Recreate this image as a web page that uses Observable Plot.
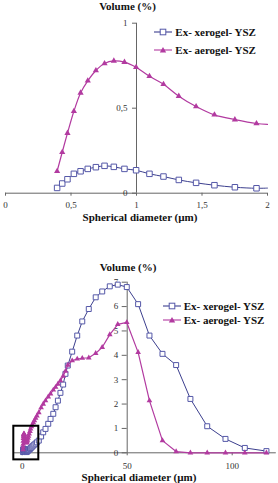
<!DOCTYPE html>
<html><head><meta charset="utf-8">
<script src="https://cdn.jsdelivr.net/npm/d3@7"></script>
<script src="https://cdn.jsdelivr.net/npm/@observablehq/plot@0.6"></script>
<style>
body{margin:0;background:#fff;}
#wrap{position:relative;width:278px;height:483px;overflow:hidden;font-family:"Liberation Serif","DejaVu Serif","Noto Serif",serif;background:#fff;}
.plot{position:absolute;left:0;}
.t{position:absolute;font-weight:bold;font-size:11px;white-space:nowrap;transform:translate(-50%,-50%);color:#111;}
.leg{position:absolute;font-weight:bold;font-size:11px;white-space:nowrap;display:flex;align-items:center;height:14px;line-height:14px;color:#111;}
.leg svg{margin-right:3px;}
</style></head>
<body><div id="wrap">
<div class="t" style="left:127.5px;top:6px">Volume (%)</div>
<div class="t" style="left:140px;top:216.5px">Spherical diameter (µm)</div>
<div class="t" style="left:128px;top:266.5px">Volume (%)</div>
<div class="t" style="left:139px;top:476.5px">Spherical diameter (µm)</div>
</div>
<script>
// ---- data ----
const seriesNames = ["Ex- xerogel- YSZ", "Ex- aerogel- YSZ"];
// panel 1 (0–2 µm)
const binsSmall = [0.394, 0.433, 0.473, 0.522, 0.573, 0.628, 0.690, 0.756, 0.827, 0.908, 0.997, 1.099, 1.206, 1.323, 1.455, 1.595, 1.751, 1.916];
const xeroSmall = [0.031, 0.057, 0.082, 0.114, 0.129, 0.143, 0.153, 0.161, 0.155, 0.143, 0.135, 0.114, 0.098, 0.078, 0.061, 0.047, 0.035, 0.029];
const aeroSmall = [0.129, 0.241, 0.353, 0.482, 0.590, 0.661, 0.722, 0.763, 0.778, 0.771, 0.741, 0.688, 0.641, 0.571, 0.510, 0.461, 0.433, 0.410];
const tailX = [2.0];
const xeroTail = [0.030];
const aeroTail = [0.405];
// panel 2 (remaining bins)
const binsLarge = [2.1, 2.3, 2.5, 2.8, 3.0, 3.3, 3.7, 4.0, 4.4, 4.8, 5.3, 5.8, 6.4, 7.0, 7.9, 9.0, 10.0, 11.1, 12.4, 13.5, 14.8, 15.9, 17.0, 18.2, 19.5, 20.6, 21.7, 23.8, 26.2, 28.6, 31.7, 35.0, 38.1, 41.7, 45.5, 49.8, 55.2, 60.6, 66.8, 73.3, 80.1, 88.1, 96.8, 106.0, 116.3];
const xeroLarge = [0.04, 0.05, 0.07, 0.09, 0.11, 0.13, 0.16, 0.19, 0.22, 0.26, 0.30, 0.34, 0.38, 0.43, 0.50, 0.67, 0.84, 0.98, 1.19, 1.39, 1.60, 1.87, 2.14, 2.46, 2.80, 3.24, 3.58, 4.15, 4.81, 5.39, 5.90, 6.38, 6.62, 6.83, 6.90, 6.80, 6.10, 4.81, 4.06, 3.60, 2.21, 1.09, 0.57, 0.20, 0.07];
const aeroLarge = [0.42, 0.46, 0.52, 0.60, 0.68, 0.78, 0.88, 0.98, 1.07, 1.15, 1.24, 1.32, 1.42, 1.52, 1.65, 1.85, 2.00, 2.14, 2.30, 2.42, 2.58, 2.69, 2.82, 2.96, 3.15, 3.35, 3.60, 3.78, 3.85, 3.88, 3.90, 4.08, 4.33, 4.85, 5.27, 5.35, 4.12, 2.14, 0.50, 0.05, 0, 0, 0, 0, 0];
// axes
const topXTicks = [0, 0.5, 1, 1.5, 2];
const topYTicks = [0, 0.5, 1];
const botXTicks = [0, 50, 100];
const botYTicks = [0, 1, 2, 3, 4, 5, 6, 7];
const zoomBox = [{x1: -4, x2: 7.9, y1: -0.29, y2: 1.09}];

// ---- build ----
const C_XERO = "#3c3f8e", C_XERO_MK = "#5558a8", C_AERO = "#b23aa0", C_AXIS = "#666";
const fmtComma = d => String(d).replace(".", ",");
const fmtInt = d => String(d);
const font = {fontFamily: "'Liberation Serif', 'DejaVu Serif', serif", fontSize: "9px", color: "#333", background: "transparent", overflow: "visible"};

const topPts = binsSmall.map((x, i) => ({x, xero: xeroSmall[i], aero: aeroSmall[i]}));
const topLine = topPts.concat(tailX.map((x, i) => ({x, xero: xeroTail[i], aero: aeroTail[i]})));
const allBins = binsSmall.concat(binsLarge);
const allXero = xeroSmall.concat(xeroLarge);
const allAero = aeroSmall.concat(aeroLarge);
const botPts = allBins.map((x, i) => ({x, xero: allXero[i], aero: allAero[i]}));

const topPlot = Plot.plot({
  width: 278, height: 230,
  marginLeft: 136, marginRight: 11, marginTop: 22.7, marginBottom: 37.3,
  x: {domain: [0, 2], range: [5, 267]},
  y: {domain: [0, 1]},
  style: font,
  marks: [
    Plot.ruleY([0], {x1: topXTicks[0], x2: topXTicks[topXTicks.length - 1], stroke: C_AXIS}),
    Plot.ruleX([1], {stroke: C_AXIS}),
    Plot.axisY({ticks: topYTicks, tickFormat: fmtComma, tickSize: 4, tickPadding: 5, label: null, stroke: C_AXIS}),
    Plot.axisX({ticks: topXTicks, tickFormat: fmtComma, tickSize: 3, tickPadding: 5, label: null, stroke: C_AXIS}),
    Plot.line(topLine, {x: "x", y: "xero", stroke: C_XERO, strokeWidth: 1, curve: "catmull-rom"}),
    Plot.line(topLine, {x: "x", y: "aero", stroke: C_AERO, strokeWidth: 1.2, curve: "catmull-rom"}),
    Plot.dot(topPts, {x: "x", y: "xero", symbol: "square", r: 3.1, fill: "white", stroke: C_XERO_MK, strokeWidth: 1}),
    Plot.dot(topPts, {x: "x", y: "aero", symbol: "triangle", r: 2.3, fill: C_AERO, stroke: "none"})
  ]
});
topPlot.classList.add("plot");
topPlot.style.top = "0px";

const botPlot = Plot.plot({
  width: 278, height: 253,
  marginLeft: 126.7, marginRight: 2, marginTop: 51.7, marginBottom: 30.7,
  x: {domain: [-4, 121], range: [13.3, 275.8]},
  y: {domain: [0, 7]},
  style: font,
  marks: [
    Plot.ruleY([0], {x1: -4, x2: 121, stroke: C_AXIS}),
    Plot.ruleX([50], {stroke: C_AXIS}),
    Plot.axisY({ticks: botYTicks, tickFormat: fmtInt, tickSize: 5, tickPadding: 4, label: null, stroke: C_AXIS}),
    Plot.axisX({ticks: botXTicks, tickFormat: fmtInt, tickSize: 3, tickPadding: 7, label: null, stroke: C_AXIS}),
    Plot.line(botPts, {x: "x", y: "xero", stroke: C_XERO, strokeWidth: 1}),
    Plot.dot(botPts, {x: "x", y: "xero", symbol: "square", r: 2.8, fill: "white", stroke: C_XERO_MK, strokeWidth: 1}),
    Plot.line(botPts, {x: "x", y: "aero", stroke: C_AERO, strokeWidth: 1.2}),
    Plot.dot(botPts, {x: "x", y: "aero", symbol: "triangle", r: 2.1, fill: C_AERO, stroke: "none"}),
    Plot.rect(zoomBox, {x1: "x1", x2: "x2", y1: "y1", y2: "y2", fill: "none", stroke: "black", strokeWidth: 2})
  ]
});
botPlot.classList.add("plot");
botPlot.style.top = "230px";

const wrap = document.getElementById("wrap");
wrap.prepend(botPlot);
wrap.prepend(topPlot);

function legend(left, cy, name, kind) {
  const d = document.createElement("div");
  d.className = "leg";
  d.style.left = left + "px";
  d.style.top = (cy - 7) + "px";
  const col = kind === "sq" ? C_XERO : C_AERO;
  const mk = kind === "sq"
    ? `<rect x="6.2" y="3.2" width="5.6" height="5.6" fill="white" stroke="${C_XERO_MK}"/>`
    : `<polygon points="9,3 12.2,8.6 5.8,8.6" fill="${C_AERO}"/>`;
  d.innerHTML = `<svg width="18" height="12"><line x1="0" x2="18" y1="6" y2="6" stroke="${col}" stroke-width="1.1"/>${mk}</svg><span>${name}</span>`;
  wrap.appendChild(d);
}
legend(154.3, 31.7, seriesNames[0], "sq");
legend(154.3, 50, seriesNames[1], "tri");
legend(162.7, 306, seriesNames[0], "sq");
legend(162.7, 320, seriesNames[1], "tri");
</script>
</body></html>
